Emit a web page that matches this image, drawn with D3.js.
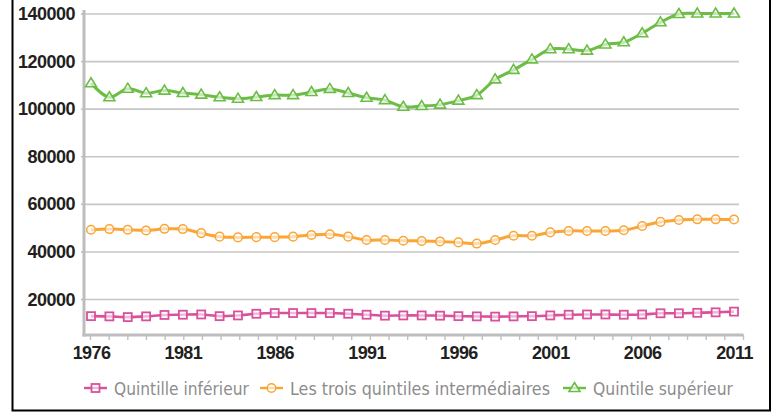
<!DOCTYPE html>
<html>
<head>
<meta charset="utf-8">
<script src="https://cdn.jsdelivr.net/npm/d3@7"></script>
<style>
  body { margin: 0; background: #fff; }
  svg { display: block; }
</style>
</head>
<body>
<script>
var years = d3.range(1976, 2012);
var yearLabels = [1976, 1981, 1986, 1991, 1996, 2001, 2006, 2011];
var yTicks = [20000, 40000, 60000, 80000, 100000, 120000, 140000];

var seriesNames = ["Quintille inférieur", "Les trois quintiles intermédiaires", "Quintile supérieur"];

var bottomValues = [12800, 12700, 12400, 12700, 13300, 13400, 13500, 12800, 13100, 13800,
                    14100, 14100, 14100, 14100, 13800, 13400, 13000, 13100, 13100, 13000,
                    12800, 12700, 12600, 12700, 12800, 13100, 13400, 13500, 13500, 13400,
                    13500, 14000, 14000, 14200, 14400, 14700];

var middleValues = [49100, 49400, 49100, 48800, 49500, 49400, 47700, 46200, 45900, 46000,
                    46000, 46200, 46900, 47200, 46200, 44800, 44800, 44500, 44400, 44200,
                    43800, 43300, 44800, 46600, 46600, 48000, 48600, 48600, 48600, 48900,
                    50700, 52400, 53200, 53500, 53500, 53400];

var topValues = [110700, 104800, 108400, 106500, 107600, 106600, 105900, 104800, 104200, 104900,
                 105700, 105700, 107000, 108300, 106600, 104600, 103600, 100800, 101100, 101700,
                 103400, 105700, 112300, 116300, 120700, 125000, 125000, 124400, 127000, 127900,
                 131700, 136300, 139800, 140000, 140000, 140000];

var colors = ["#d9519d", "#f9a636", "#6cbd45"];

var width = 773, height = 412;

var svg = d3.select("body").append("svg")
    .attr("width", width)
    .attr("height", height);

// frame (top edge is cut off in the original)
svg.append("rect")
    .attr("x", 12.5).attr("y", -10)
    .attr("width", 757.5).attr("height", 420.5)
    .attr("fill", "none")
    .attr("stroke", "#000")
    .attr("stroke-width", 2);

var x = d3.scaleLinear().domain([1976, 2011]).range([91, 734]);
var xTickPos = d3.scaleLinear().domain([1976, 2011]).range([90, 743]);
var y = d3.scaleLinear().domain([5000, 140000]).range([334.7, 13.5]);

// gridlines
var grid = svg.append("g")
    .attr("transform", "translate(84,0)")
    .call(d3.axisLeft(y).tickValues(yTicks).tickSize(-655).tickFormat(""));
grid.select(".domain").remove();
grid.selectAll("line").attr("stroke", "#c6c6c6").attr("stroke-width", 1.6);

var labelFont = "'Liberation Sans', Arial, sans-serif";

// y labels
var yAxis = svg.append("g")
    .attr("transform", "translate(84,0)")
    .call(d3.axisLeft(y).tickValues(yTicks).tickSize(3).tickPadding(6).tickFormat(d3.format("d")));
yAxis.select(".domain").remove();
yAxis.selectAll("line").attr("stroke", "#c0c0c0").attr("stroke-width", 1.6);
yAxis.selectAll("text")
    .attr("font-family", labelFont)
    .attr("font-weight", "bold")
    .attr("font-size", 18)
    .attr("letter-spacing", -0.5)
    .attr("fill", "#231f20")
    .attr("dy", "0.34em");

// x tick marks
var xTicks = svg.append("g")
    .attr("transform", "translate(0,335)")
    .call(d3.axisBottom(xTickPos).tickValues(years).tickSize(5).tickFormat(""));
xTicks.select(".domain").remove();
xTicks.selectAll("line").attr("stroke", "#c0c0c0").attr("stroke-width", 1.4);

// axis lines
svg.append("line")
    .attr("x1", 84).attr("x2", 84).attr("y1", 10).attr("y2", 336.5)
    .attr("stroke", "#bdbdbd").attr("stroke-width", 3);
svg.append("line")
    .attr("x1", 82.5).attr("x2", 743.5).attr("y1", 335).attr("y2", 335)
    .attr("stroke", "#bdbdbd").attr("stroke-width", 3);

// x labels
var xAxis = svg.append("g")
    .attr("transform", "translate(0,335)")
    .call(d3.axisBottom(x).tickValues(yearLabels).tickSize(0).tickPadding(11.5).tickFormat(d3.format("d")));
xAxis.select(".domain").remove();
xAxis.selectAll("text")
    .attr("font-family", labelFont)
    .attr("font-weight", "bold")
    .attr("font-size", 18)
    .attr("fill", "#231f20")
    .attr("letter-spacing", -0.6);

var line = d3.line()
    .x(function (d, i) { return x(years[i]); })
    .y(function (d) { return y(d); })
    .curve(d3.curveCatmullRom.alpha(0.5));

var allSeries = [bottomValues, middleValues, topValues];

allSeries.forEach(function (vals, k) {
    svg.append("path")
        .datum(vals)
        .attr("d", line)
        .attr("fill", "none")
        .attr("stroke", colors[k])
        .attr("stroke-width", k == 0 ? 2.6 : 3);
});

function drawMarker(g, k, cx, cy) {
    if (k == 0) {
        g.append("rect")
            .attr("x", cx - 4).attr("y", cy - 4)
            .attr("width", 8).attr("height", 8)
            .attr("fill", "#fff").attr("fill-opacity", 0.6)
            .attr("stroke", colors[k]).attr("stroke-width", 1.8);
    } else if (k == 1) {
        g.append("circle")
            .attr("cx", cx).attr("cy", cy).attr("r", 4.3)
            .attr("fill", "#fff").attr("fill-opacity", 0.6)
            .attr("stroke", colors[k]).attr("stroke-width", 1.5);
    } else {
        g.append("path")
            .attr("d", "M" + cx + "," + (cy - 5.5) + "L" + (cx + 5.5) + "," + (cy + 3.5) + "L" + (cx - 5.5) + "," + (cy + 3.5) + "Z")
            .attr("fill", "#fff").attr("fill-opacity", 0.6)
            .attr("stroke", colors[k]).attr("stroke-width", 1.6);
    }
}

allSeries.forEach(function (vals, k) {
    var g = svg.append("g");
    vals.forEach(function (v, i) {
        drawMarker(g, k, x(years[i]), y(v));
    });
});

// legend: size each label so it fills the same width as in the original
var legendX = [84, 260, 563];
var legendW = [135, 260, 140];
seriesNames.forEach(function (name, k) {
    var g = svg.append("g").attr("transform", "translate(" + legendX[k] + ",388)");
    g.append("line")
        .attr("x1", 0).attr("x2", 23).attr("y1", 0).attr("y2", 0)
        .attr("stroke", colors[k]).attr("stroke-width", 2.4);
    drawMarker(g, k, 11.5, 0);
    var t = g.append("text")
        .attr("x", 30).attr("y", 6.5)
        .attr("font-family", "'Liberation Sans Narrow', 'DejaVu Sans Condensed', sans-serif")
        .attr("font-size", 20)
        .attr("fill", "#8c8c8c")
        .text(name);
    var w = t.node().getComputedTextLength();
    t.attr("font-size", Math.min(22, 20 * legendW[k] / w));
});
</script>
</body>
</html>
